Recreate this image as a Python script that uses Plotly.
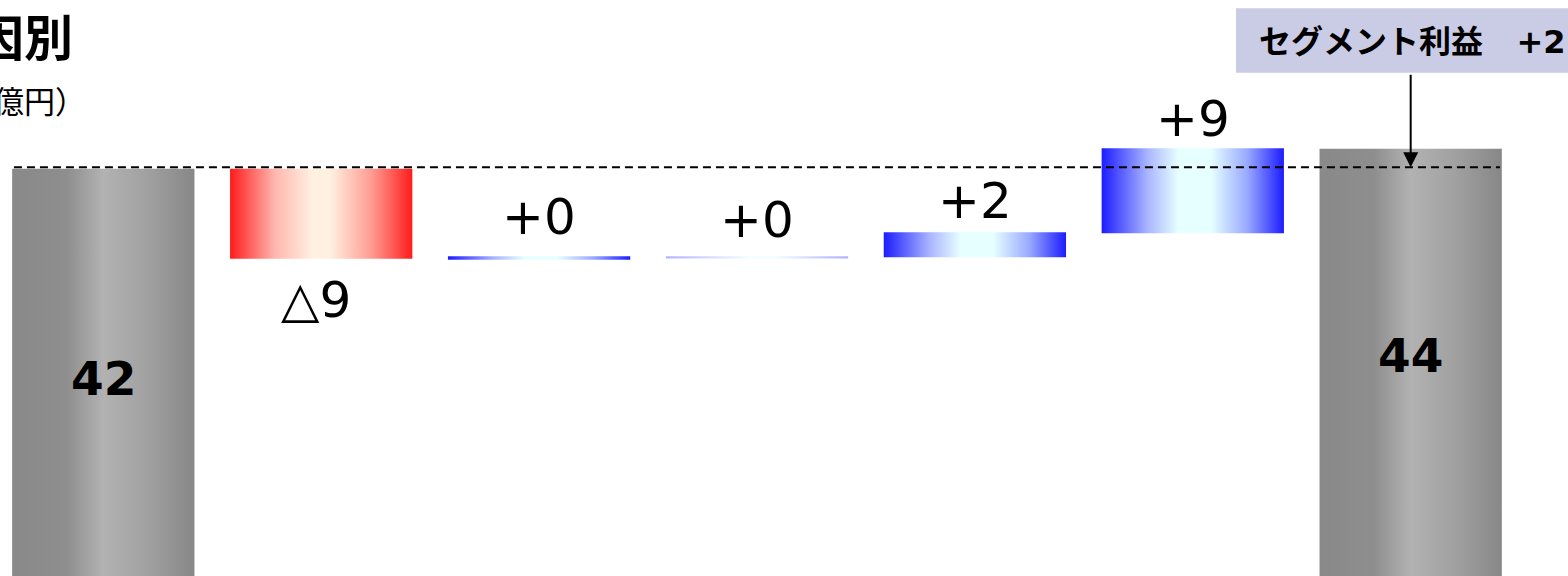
import plotly.graph_objects as go

# ---------------- data ----------------
categories = ["前期", "要因1", "要因2", "要因3", "要因4", "要因5", "当期"]
bar_base = [0.0, 33.0, 32.9, 33.02, 33.15, 35.55, 0.0]
bar_top = [42.0, 42.0, 33.25, 33.24, 35.65, 44.05, 44.0]
bar_kind = ["total", "down", "up", "up_light", "up", "up", "total"]
bar_labels = ["42", "△9", "+0", "+0", "+2", "+9", "44"]
ref_level = 42.15
title_text = "セグメント利益 増減要因別"
unit_text = "（億円）"
callout_text = "セグメント利益\u00a0\u00a0 +2"

# ---------------- styles ----------------
W, H = 1568, 576
bar_w = 0.8366
gradients = {
    "total": [[0, "#898989"], [0.3, "#8e8e8e"], [0.5, "#b2b2b2"], [0.75, "#a0a0a0"], [1, "#878787"]],
    "down": [[0, "#ff1c1c"], [0.25, "#ffb8b0"], [0.45, "#fff0e0"], [0.55, "#fff0e0"], [0.78, "#ff9a90"], [1, "#ff1c1c"]],
    "up": [[0, "#1c1cff"], [0.25, "#a8b4ff"], [0.42, "#e6ffff"], [0.6, "#e6ffff"], [0.8, "#98a8ff"], [1, "#1c1cff"]],
    "up_light": [[0, "#b4b4ff"], [0.3, "#dce4ff"], [0.45, "#f0ffff"], [0.6, "#f0ffff"], [0.8, "#d0d8ff"], [1, "#b0b0ff"]],
}
num_font = "DejaVu Sans, Noto Sans CJK JP"
cjk_font = "Noto Sans CJK JP, DejaVu Sans"
label_shift_y = [0, -41, 39, 36, 31, 29, 13]
label_shift_x = [0, -5, 0, 0, 0, 0, 0]

fig = go.Figure()

for i, (b, t, k) in enumerate(zip(bar_base, bar_top, bar_kind)):
    x0, x1 = i - bar_w / 2, i + bar_w / 2
    fig.add_trace(go.Scatter(
        x=[x0, x1, x1, x0, x0], y=[b, b, t, t, b],
        mode="lines", fill="toself",
        line=dict(width=0),
        fillgradient=dict(type="horizontal", colorscale=gradients[k]),
        hoverinfo="skip", showlegend=False, name=categories[i],
    ))

# dashed reference line at the starting level
fig.add_shape(type="line", xref="x", yref="y",
              x0=-0.5 + 0.09, x1=len(categories) - 1 + 0.41,
              y0=ref_level, y1=ref_level,
              line=dict(color="black", width=2, dash="8px,5px"))

# value labels
for i, (b, t, k, lab) in enumerate(zip(bar_base, bar_top, bar_kind, bar_labels)):
    if k == "total":
        fig.add_annotation(x=i, y=t / 2, text=f"<b>{lab}</b>", showarrow=False,
                           yanchor="middle", yshift=label_shift_y[i],
                           font=dict(family=num_font, size=47, color="black"))
    elif k == "down":
        fig.add_annotation(x=i, y=b, text=lab, showarrow=False,
                           yanchor="middle", yshift=label_shift_y[i], xshift=label_shift_x[i],
                           font=dict(family=num_font, size=50, color="black"))
    else:
        fig.add_annotation(x=i, y=t, text=lab, showarrow=False,
                           yanchor="middle", yshift=label_shift_y[i], xshift=label_shift_x[i],
                           font=dict(family=num_font, size=50, color="black"))

# title & unit (cut at the left edge as in the reference)
fig.add_annotation(xref="paper", yref="paper", x=75 / W, y=1 - 35 / H,
                   text=f"<b>{title_text}</b>", showarrow=False,
                   xanchor="right", yanchor="middle",
                   font=dict(family=cjk_font, size=49, color="black"))
fig.add_annotation(xref="paper", yref="paper", x=88 / W, y=1 - 99 / H,
                   text=unit_text, showarrow=False,
                   xanchor="right", yanchor="middle",
                   font=dict(family=cjk_font, size=31, color="black"))

# callout box
fig.add_shape(type="rect", xref="paper", yref="paper",
              x0=1236 / W, x1=1.05, y0=1 - 72.7 / H, y1=1 - 8.3 / H,
              fillcolor="#c9cce4", line=dict(width=0), layer="above")
fig.add_annotation(xref="paper", yref="paper", x=1257 / W, y=1 - 41.5 / H,
                   text=f"<b>{callout_text}</b>", showarrow=False,
                   xanchor="left", yanchor="middle",
                   font=dict(family=num_font, size=32, color="black"))
fig.add_annotation(x=len(categories) - 1, y=ref_level, text="", showarrow=True,
                   ax=0, ay=-(166.7 - 72.7), arrowhead=2, arrowsize=1.5,
                   arrowwidth=2, arrowcolor="black", standoff=0)

fig.update_layout(
    width=W, height=H,
    margin=dict(l=0, r=0, t=0, b=0),
    paper_bgcolor="white", plot_bgcolor="white",
    xaxis=dict(range=[-0.474, 6.722], visible=False, fixedrange=True),
    yaxis=dict(range=[1.27, 58.87], visible=False, fixedrange=True),
    showlegend=False,
)

fig.write_html("out.html", config={"displayModeBar": False},
               post_script="document.body.style.margin='0';document.body.style.overflow='hidden';")
